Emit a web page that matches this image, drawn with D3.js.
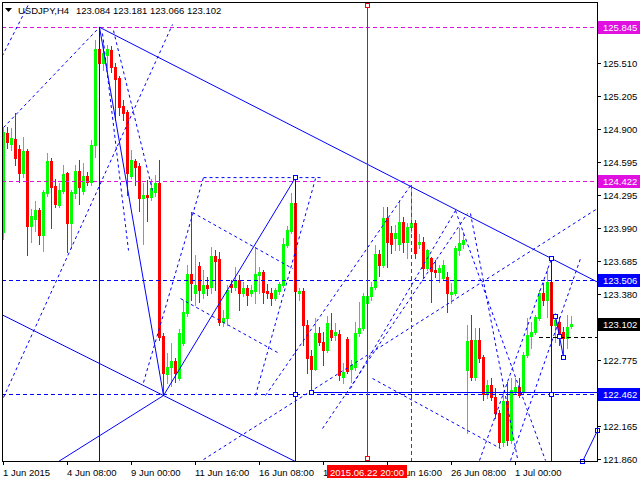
<!DOCTYPE html>
<html><head><meta charset="utf-8">
<script src="https://cdn.jsdelivr.net/npm/d3@7"></script>
<style>
body{margin:0;background:#fff}
svg{display:block}
text{font-family:"Liberation Sans",Arial,sans-serif;font-size:9.5px}
</style>
</head><body>
<svg id="c" width="640" height="480"></svg>
<script>
// ---- data (USDJPY H4) ----
const symbolName = "USDJPY,H4";
const opens = [123.953,124.865,124.764,124.810,124.718,124.496,124.699,124.008,124.072,124.155,123.925,124.312,124.607,124.377,124.201,124.331,124.496,124.036,124.312,124.515,124.331,124.469,124.414,124.755,125.639,125.510,125.584,125.630,125.474,125.372,125.114,125.059,124.469,124.607,124.561,124.266,124.294,124.275,124.321,124.404,122.994,122.644,122.708,122.764,122.607,122.930,123.206,123.566,123.390,123.639,123.390,123.464,123.446,123.731,123.704,123.123,123.160,123.473,123.446,123.510,123.390,123.436,123.390,123.409,123.556,123.584,123.409,123.390,123.344,123.409,123.464,123.833,123.962,124.220,123.390,123.409,123.095,122.810,122.690,123.022,122.939,122.865,123.049,123.003,123.013,122.616,122.967,122.690,122.708,123.022,123.068,123.298,123.363,123.446,123.750,123.649,124.082,123.943,123.897,123.842,124.045,123.861,123.999,124.036,123.842,123.861,123.621,123.713,123.602,123.584,123.529,123.538,123.381,123.390,123.787,123.842,122.681,122.957,122.616,122.957,122.800,122.460,122.542,122.432,122.284,122.017,122.395,122.035,122.478,122.524,122.478,122.819,122.994,123.031,123.160,123.390,123.326,123.492,123.096,123.123,123.031,122.976,123.084];
const highs = [124.911,124.920,124.911,125.049,124.755,124.828,124.718,124.165,124.238,124.174,124.340,124.681,124.635,124.441,124.404,124.570,124.506,124.340,124.570,124.616,124.589,124.506,124.801,125.722,125.845,125.722,125.676,125.667,125.510,125.391,125.169,125.077,124.708,124.626,124.589,124.404,124.432,124.441,124.478,124.616,123.022,122.837,122.930,122.791,123.059,123.326,123.649,124.137,123.741,123.676,123.603,123.538,123.814,123.787,123.768,123.234,123.464,123.510,123.630,123.556,123.492,123.464,123.464,123.814,123.630,123.602,123.473,123.436,123.436,123.492,123.897,124.008,124.312,124.459,123.436,123.436,123.142,122.865,123.160,123.077,123.031,123.178,123.206,123.114,123.049,122.745,122.985,122.773,123.123,123.308,123.390,123.390,123.492,123.833,123.787,124.183,124.183,124.008,124.017,124.248,124.091,124.036,124.386,124.063,123.934,123.907,123.796,123.722,123.695,123.649,123.695,123.584,123.483,123.824,123.989,123.953,123.096,123.188,123.068,123.068,122.819,122.589,122.607,122.515,122.312,122.478,122.570,122.607,122.607,122.607,122.847,123.160,123.123,123.188,123.418,123.483,123.621,123.713,123.206,123.169,123.077,123.188,123.181];
const lows = [123.888,124.727,124.708,124.570,124.414,124.460,123.741,123.861,123.962,123.842,123.778,124.284,123.990,124.183,124.183,124.312,123.768,123.805,124.266,124.211,124.303,124.386,124.386,124.644,125.464,125.446,125.464,125.427,124.985,125.031,124.985,124.294,124.450,124.386,124.146,123.842,124.054,124.248,124.284,122.957,122.450,122.561,122.533,122.570,122.589,122.911,123.178,123.326,123.280,123.308,123.344,123.372,123.390,123.418,123.095,123.086,123.095,123.400,123.418,123.234,123.363,123.280,123.363,123.298,123.390,123.298,123.344,123.280,123.326,123.381,123.446,123.814,123.943,123.206,123.326,122.911,122.653,122.478,122.681,122.911,122.727,122.847,122.957,122.957,122.589,122.561,122.653,122.570,122.681,122.994,123.049,123.280,123.326,123.427,123.547,123.630,123.630,123.759,123.787,123.787,123.768,123.713,123.953,123.713,123.805,123.538,123.603,123.308,123.538,123.492,123.510,123.215,123.298,123.372,123.741,123.805,122.100,122.589,122.589,122.755,122.404,122.423,122.404,122.238,121.971,121.980,121.989,122.008,122.469,122.432,122.469,122.800,122.884,123.013,123.142,123.280,123.169,123.050,122.939,122.911,122.801,122.884,123.066];
const closes = [124.874,124.782,124.819,124.635,124.496,124.699,124.008,124.100,124.155,123.925,124.321,124.607,124.367,124.211,124.340,124.487,124.036,124.321,124.515,124.367,124.469,124.414,124.755,125.639,125.510,125.602,125.639,125.474,125.363,125.105,125.049,124.496,124.616,124.552,124.266,124.294,124.275,124.358,124.404,122.985,122.653,122.708,122.764,122.653,123.022,123.215,123.566,123.483,123.464,123.418,123.464,123.436,123.731,123.685,123.123,123.160,123.418,123.446,123.510,123.390,123.436,123.372,123.418,123.566,123.584,123.400,123.390,123.344,123.418,123.473,123.842,123.971,124.220,123.409,123.409,123.095,122.791,122.690,123.022,122.939,122.865,123.114,122.985,123.031,122.635,122.662,122.671,122.727,123.022,123.068,123.363,123.363,123.446,123.750,123.649,124.082,123.861,123.842,123.943,124.045,123.861,123.999,124.036,123.759,123.861,123.621,123.787,123.593,123.584,123.621,123.649,123.390,123.400,123.805,123.851,123.879,122.948,122.616,122.957,122.791,122.460,122.542,122.432,122.284,122.017,122.395,122.035,122.496,122.524,122.450,122.819,123.003,123.031,123.169,123.390,123.326,123.492,123.096,123.142,123.022,122.976,123.077,123.102];

// time axis: bar index -> label
const xTickBars   = [0, 16, 32, 48, 64, 80, 96, 112, 128];
const xTickLabels = ["1 Jun 2015","4 Jun 08:00","9 Jun 00:00","11 Jun 16:00","16 Jun 08:00","19 Jun 00:00","23 Jun 16:00","26 Jun 08:00","1 Jul 00:00"];
// price axis
const yTickValues = [125.510,125.205,124.900,124.595,124.295,123.990,123.685,123.380,122.775,122.165,121.860];

// horizontal line objects
const magentaLevels = [125.845, 124.422];
const blueLevels    = [123.506, 122.462];
const blackDashed   = [134, 122.985];        // bar, price (ray right)

// trend line objects: [bar1, price1, bar2, price2, ray]
const solidTrends = [
  [24,125.845,137,123.713,"right"],
  [24,125.845,40,122.450,""],
  [40,122.450,73,124.459,""],
  [0,123.188,40,122.450,"both"],
  [13.75,121.842,40,122.450,""],
  [77,122.478,148.5,122.478,""]
];
const dashedTrends = [
  [0,125.602,6.5,126.073,"both"],
  [0,124.920,24,125.845,""],
  [0,122.432,42.25,125.870,""],
  [24.75,125.787,31.25,123.787,""],
  [27.5,125.814,37.25,124.340,""],
  [35,122.570,50,124.460,""],
  [47.25,124.137,72.25,123.621,""],
  [44.25,123.344,68.5,122.847,""],
  [50,124.459,79.25,124.459,""],
  [78,124.450,63,122.450,""],
  [65.5,122.450,101.75,124.386,""],
  [79.75,122.146,116,124.128,""],
  [50,121.860,148.5,124.174,""],
  [92.25,122.607,124.25,121.962,""],
  [86.75,122.515,113,124.155,""],
  [113,124.155,135.5,121.851,""],
  [116.75,124.128,128.5,121.869,""],
  [119,121.851,137,123.713,""],
  [126.75,121.851,144.25,123.713,""]
];
const forecastPath = [[138,123.178],[139,122.994],[140,122.800]];
const forecastTail = [[144.75,121.842],[148.5,122.128]];
// vertical objects: [bar, price from which the line runs down]
const blueVerticals = [[24,125.845],[73,124.459],[137,123.713]];
const redVerticalBar = 91;
const redVerticalLabel = "2015.06.22 20:00";
const redDashedVertical = [102,124.386];
const blueAnchors = [[73,124.459],[73,122.462],[77,122.478],[137,123.713],[137,122.462],[138,123.178],[139,122.994],[140,122.800],[144.75,121.842],[148.5,122.128]];
const redAnchors = [[91,126.045],[91,121.869]];

// ---- drawing ----
const W = 640, H = 480;
const plot = {l:2, t:2, r:597, b:461};
const svg = d3.select("#c");
const x = d3.scaleLinear().domain([-0.25,148.5]).range([plot.l, plot.r]);
const y = d3.scaleLinear().domain([121.842,126.073]).range([plot.b, plot.t]);
const BLUE = "#0000ff", RED = "#ff0000", LIME = "#00ff00", MAG = "#e010e0";

svg.append("rect").attr("width",W).attr("height",H).attr("fill","#fff");
svg.append("defs").append("clipPath").attr("id","clip")
  .append("rect").attr("x",plot.l).attr("y",plot.t).attr("width",plot.r-plot.l).attr("height",plot.b-plot.t);
const g = svg.append("g").attr("clip-path","url(#clip)");

// candles
const gc = g.append("g").attr("shape-rendering","crispEdges");
opens.forEach((o,i)=>{
  const c = closes[i], h = highs[i], l = lows[i];
  const col = c >= o ? LIME : RED;
  const cx = Math.round(x(i));
  const yh = Math.round(y(h)), yl = Math.round(y(l));
  gc.append("rect").attr("x",cx).attr("y",yh).attr("width",1).attr("height",Math.max(1,yl-yh+1)).attr("fill",col);
  const yt = Math.round(y(Math.max(o,c))), yb = Math.round(y(Math.min(o,c)));
  gc.append("rect").attr("x",cx-1).attr("y",yt).attr("width",3).attr("height",Math.max(1,yb-yt+1)).attr("fill",col);
});

function extend(t){
  let [b1,p1,b2,p2,ray] = t;
  const k = (p2-p1)/(b2-b1);
  if (ray==="right" || ray==="both"){ const nb = 300; p2 = p1 + (nb-b1)*k; b2 = nb; }
  if (ray==="both"){ const nb = -150; p1 = p1 + (nb-b1)*k; b1 = nb; }
  return [b1,p1,b2,p2];
}
const gl = g.append("g").attr("fill","none");
function drawLine(t, color, dash){
  const [b1,p1,b2,p2] = extend(t);
  gl.append("line").attr("x1",x(b1)+0.5).attr("y1",y(p1)+0.5).attr("x2",x(b2)+0.5).attr("y2",y(p2)+0.5)
    .attr("stroke",color).attr("stroke-width",1).attr("stroke-dasharray",dash||null);
}
// horizontal full-width levels
magentaLevels.forEach(p=>{
  gl.append("line").attr("x1",plot.l).attr("x2",plot.r).attr("y1",Math.round(y(p))+0.5).attr("y2",Math.round(y(p))+0.5)
    .attr("stroke",MAG).attr("stroke-dasharray","4,3").attr("shape-rendering","crispEdges");
});
blueLevels.forEach(p=>{
  gl.append("line").attr("x1",plot.l).attr("x2",plot.r).attr("y1",Math.round(y(p))+0.5).attr("y2",Math.round(y(p))+0.5)
    .attr("stroke",BLUE).attr("stroke-dasharray","4,3").attr("shape-rendering","crispEdges");
});
gl.append("line").attr("x1",x(blackDashed[0])).attr("x2",plot.r)
  .attr("y1",Math.round(y(blackDashed[1]))+0.5).attr("y2",Math.round(y(blackDashed[1]))+0.5)
  .attr("stroke","#000").attr("stroke-dasharray","4,3").attr("shape-rendering","crispEdges");

dashedTrends.forEach(t=>drawLine(t, BLUE, "3,3"));
solidTrends.forEach(t=>drawLine(t, BLUE, null));
gl.append("path").attr("d",d3.line().x(d=>x(d[0])+0.5).y(d=>y(d[1])+0.5)(forecastPath)).attr("stroke",BLUE);
gl.append("path").attr("d",d3.line().x(d=>x(d[0])+0.5).y(d=>y(d[1])+0.5)(forecastTail)).attr("stroke",BLUE);

// verticals
blueVerticals.forEach(([b,p])=>{
  gl.append("line").attr("x1",Math.round(x(b))+0.5).attr("x2",Math.round(x(b))+0.5).attr("y1",y(p)).attr("y2",plot.b)
    .attr("stroke",BLUE).attr("shape-rendering","crispEdges");
});
gl.append("line").attr("x1",Math.round(x(redDashedVertical[0]))+0.5).attr("x2",Math.round(x(redDashedVertical[0]))+0.5)
  .attr("y1",y(redDashedVertical[1])).attr("y2",plot.b).attr("stroke",RED).attr("stroke-dasharray","4,3").attr("shape-rendering","crispEdges");
gl.append("line").attr("x1",Math.round(x(redVerticalBar))+0.5).attr("x2",Math.round(x(redVerticalBar))+0.5)
  .attr("y1",plot.t).attr("y2",plot.b).attr("stroke",RED).attr("shape-rendering","crispEdges");

// anchor squares
const ga = svg.append("g").attr("shape-rendering","crispEdges");
blueAnchors.forEach(([b,p])=>{
  ga.append("rect").attr("x",Math.round(x(b))-1.5).attr("y",Math.round(y(p))-1.5).attr("width",4).attr("height",4)
    .attr("fill","#fff").attr("stroke",BLUE);
});
redAnchors.forEach(([b,p])=>{
  ga.append("rect").attr("x",Math.round(x(b))-1.5).attr("y",Math.round(y(p))-1.5).attr("width",4).attr("height",4)
    .attr("fill","#fff").attr("stroke",RED);
});

// frame
svg.append("rect").attr("x",plot.l+0.5).attr("y",plot.t+0.5).attr("width",plot.r-plot.l).attr("height",plot.b-plot.t)
  .attr("fill","none").attr("stroke","#000").attr("shape-rendering","crispEdges");

// x axis
const gx = svg.append("g").attr("shape-rendering","crispEdges");
xTickBars.forEach((b,i)=>{
  const px = Math.round(x(b))+0.5;
  gx.append("line").attr("x1",px).attr("x2",px).attr("y1",plot.b).attr("y2",plot.b+4).attr("stroke","#000");
  gx.append("text").attr("x",Math.round(x(b))).attr("y",476).attr("fill","#000").text(xTickLabels[i]);
});
// y axis
const gy = svg.append("g");
yTickValues.forEach(v=>{
  const py = Math.round(y(v))+0.5;
  gy.append("line").attr("x1",plot.r).attr("x2",plot.r+4).attr("y1",py).attr("y2",py).attr("stroke","#000").attr("shape-rendering","crispEdges");
  gy.append("text").attr("x",603).attr("y",py+3.5).attr("fill","#000").text(v.toFixed(3));
});
// level labels
function levelLabel(p, bg){
  const py = Math.round(y(p));
  gy.append("rect").attr("x",598).attr("y",py-6).attr("width",42).attr("height",13).attr("fill",bg);
  gy.append("text").attr("x",603).attr("y",py+4).attr("fill","#fff").text(p.toFixed(3));
}
magentaLevels.forEach(p=>levelLabel(p, MAG));
blueLevels.forEach(p=>levelLabel(p, BLUE));
levelLabel(closes[closes.length-1], "#000");

// red time label
const rx = Math.round(x(redVerticalBar));
svg.append("rect").attr("x",rx-40).attr("y",465).attr("width",80).attr("height",13).attr("fill",RED);
svg.append("text").attr("x",rx).attr("y",475.5).attr("text-anchor","middle").attr("fill","#fff").text(redVerticalLabel);

// title
const last = opens.length-1;
svg.append("path").attr("d","M5,8L12,8L8.5,12Z").attr("fill","#000");
svg.append("text").attr("x",18).attr("y",14).attr("fill","#000").text(symbolName);
svg.append("text").attr("x",76).attr("y",14).attr("fill","#000")
  .text([opens[last],highs[last],lows[last],closes[last]].map(v=>v.toFixed(3)).join(" "));
</script>
</body></html>
